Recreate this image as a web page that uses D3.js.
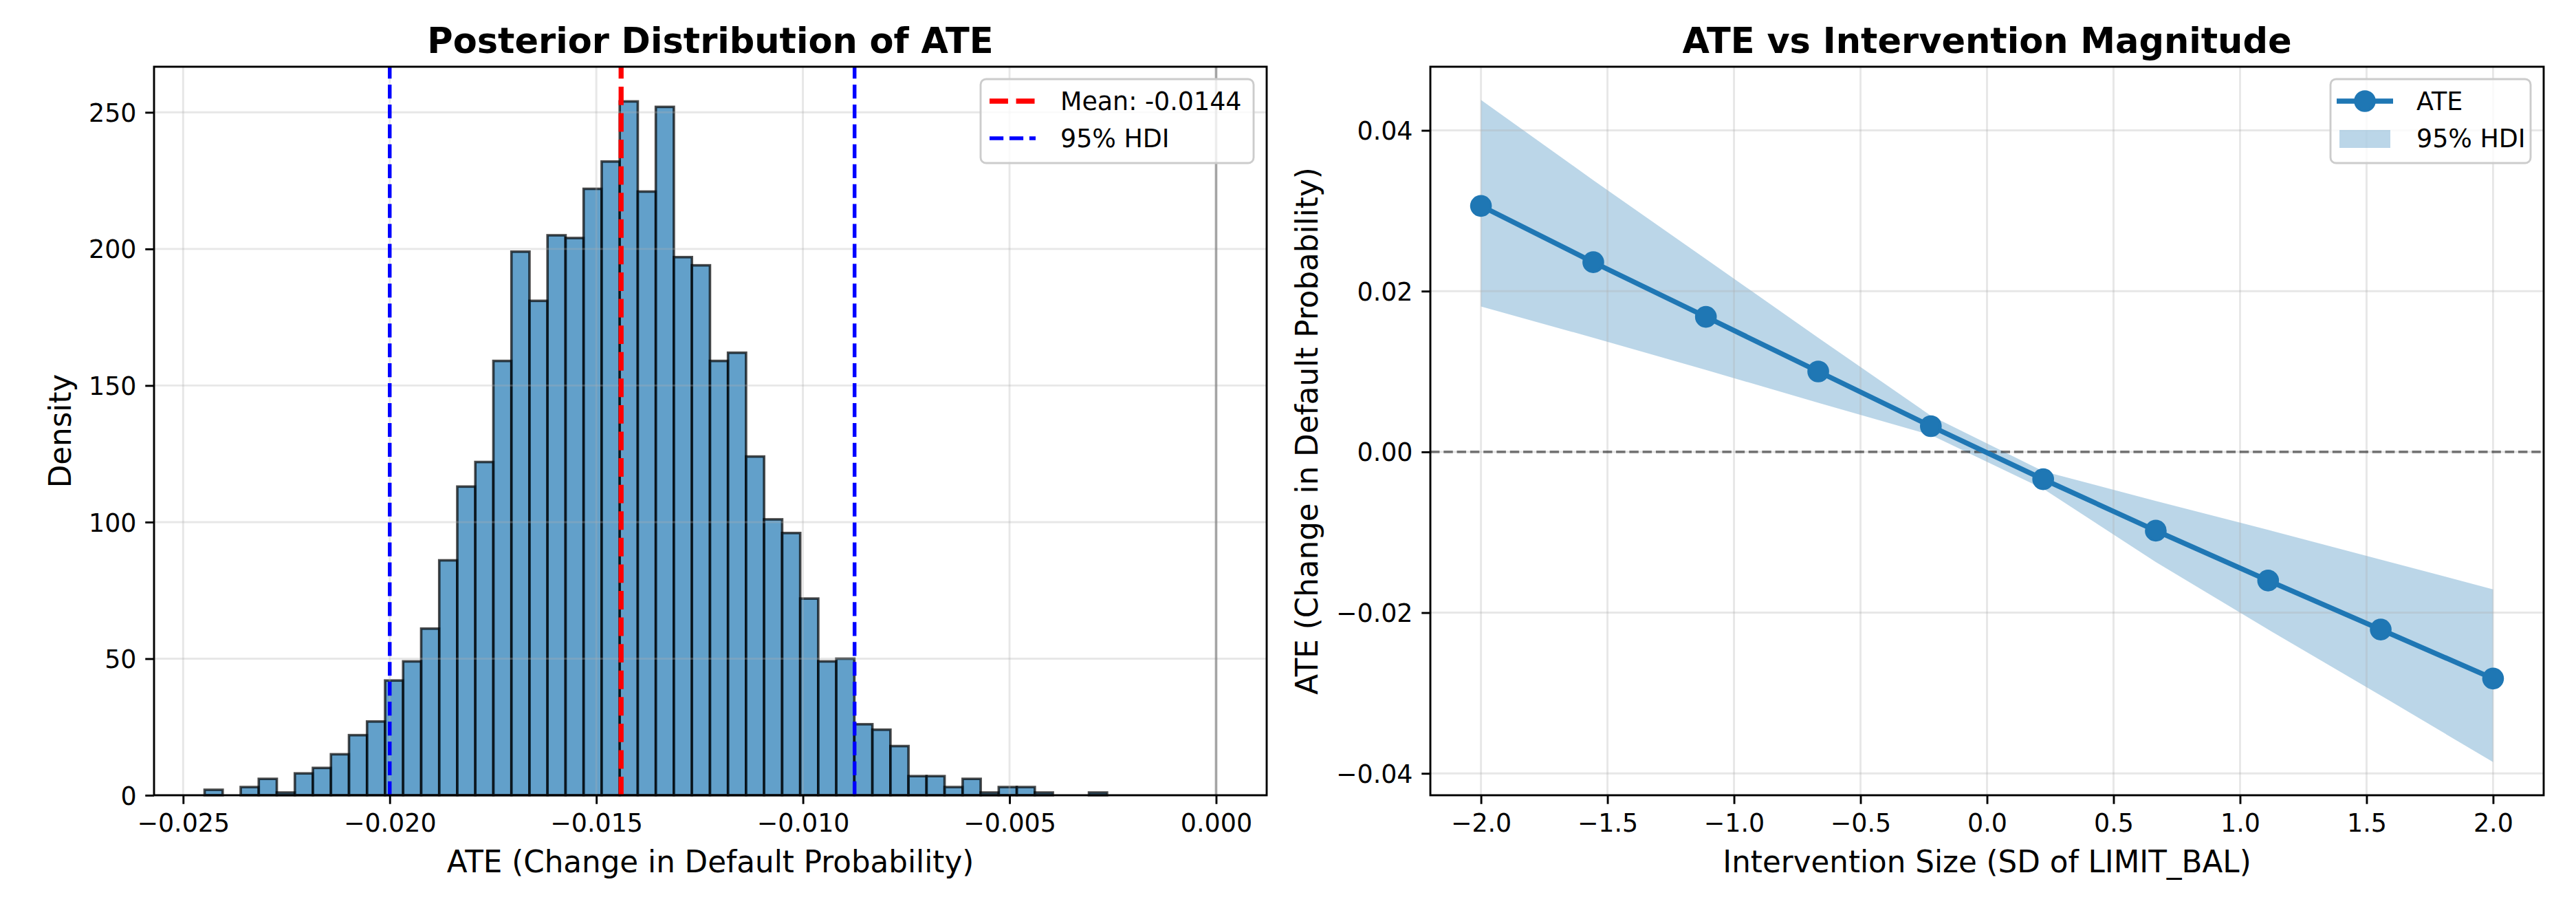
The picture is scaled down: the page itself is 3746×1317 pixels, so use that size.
<!DOCTYPE html>
<html>
<head>
<meta charset="utf-8">
<script src="https://cdn.jsdelivr.net/npm/d3@7"></script>
<style>
  body { margin: 0; background: #fff; }
  svg { display: block; font-family: "DejaVu Sans", sans-serif; }
</style>
</head>
<body>
<svg id="chart" width="3746" height="1317"></svg>
<script>
/* Histogram data: 50 bins of posterior ATE draws */
const binRange = [-0.02448, -0.00264];
const binCounts = [2, 0, 3, 6, 1, 8, 10, 15, 22, 27, 42, 49, 61, 86, 113, 122, 159, 199, 181, 205,
                   204, 222, 232, 254, 221, 252, 197, 194, 159, 162, 124, 101, 96, 72, 49, 50, 26, 24, 18, 7,
                   7, 3, 6, 1, 3, 3, 1, 0, 0, 1];
const ateMean = -0.0144;
const hdiBounds = [-0.0200, -0.00875];
const histXTicks = [-0.025, -0.020, -0.015, -0.010, -0.005, 0.000];
const histYTicks = [0, 50, 100, 150, 200, 250];

/* Intervention sweep */
const interventionSizes = [-2.0, -1.556, -1.111, -0.667, -0.222, 0.222, 0.667, 1.111, 1.556, 2.0];
const ateValues = [0.0306, 0.0236, 0.0168, 0.0100, 0.0032, -0.0034, -0.0098, -0.0160, -0.0221, -0.0282];
const hdiLower = [0.0181, 0.0142, 0.0102, 0.0061, 0.0021, -0.0046, -0.0137, -0.0221, -0.0303, -0.0386];
const hdiUpper = [0.0438, 0.0338, 0.0240, 0.0142, 0.0045, -0.0024, -0.0061, -0.0097, -0.0134, -0.0171];
const sweepXTicks = [-2.0, -1.5, -1.0, -0.5, 0.0, 0.5, 1.0, 1.5, 2.0];
const sweepYTicks = [-0.04, -0.02, 0.00, 0.02, 0.04];

/* Shared style (matplotlib look, ~3.64 px per pt) */
const PT = 3.64;
const blue = "#1f77b4";
const axTop = 97, axBottom = 1156;
const minus = s => s.replace("-", "\u2212");

const svg = d3.select("#chart");

function pad(ext) {
    const p = (ext[1] - ext[0]) * 0.05;
    return [ext[0] - p, ext[1] + p];
}

function drawGrid(g, x, y, left, right, xTicks, yTicks) {
    /* grid sits above patches, below lines (matplotlib default) */
    const grid = g.append("g");
    grid.selectAll(".gx").data(xTicks).join("line")
        .attr("x1", d => x(d)).attr("x2", d => x(d))
        .attr("y1", axTop).attr("y2", axBottom)
        .attr("stroke", "#b0b0b0").attr("stroke-opacity", 0.3).attr("stroke-width", 0.8 * PT);
    grid.selectAll(".gy").data(yTicks).join("line")
        .attr("x1", left).attr("x2", right)
        .attr("y1", d => y(d)).attr("y2", d => y(d))
        .attr("stroke", "#b0b0b0").attr("stroke-opacity", 0.3).attr("stroke-width", 0.8 * PT);
}

function drawAxes(g, x, y, left, right, xTicks, yTicks, xFmt, yFmt) {
    const ax = g.append("g");
    ax.append("rect")
        .attr("x", left).attr("y", axTop)
        .attr("width", right - left).attr("height", axBottom - axTop)
        .attr("fill", "none").attr("stroke", "#000").attr("stroke-width", 0.8 * PT);

    const xa = ax.append("g")
        .attr("transform", `translate(0,${axBottom})`)
        .call(d3.axisBottom(x).tickValues(xTicks).tickFormat(d => minus(xFmt(d)))
            .tickSize(3.5 * PT).tickPadding(3.5 * PT));
    const ya = ax.append("g")
        .attr("transform", `translate(${left},0)`)
        .call(d3.axisLeft(y).tickValues(yTicks).tickFormat(d => minus(yFmt(d)))
            .tickSize(3.5 * PT).tickPadding(3.5 * PT));
    [xa, ya].forEach(a => {
        a.select(".domain").remove();
        a.selectAll(".tick line").attr("stroke", "#000").attr("stroke-width", 0.8 * PT);
        a.selectAll(".tick text")
            .attr("fill", "#000")
            .style("font-family", "DejaVu Sans")
            .style("font-size", "36.4px");
    });
    xa.selectAll(".tick text").attr("dy", "0.76em");
    ya.selectAll(".tick text").attr("dy", "0.36em");
}

function legendBox(g, right, w, h) {
    return g.append("rect")
        .attr("x", right - 19 - w).attr("y", axTop + 18)
        .attr("width", w).attr("height", h)
        .attr("rx", 8).attr("ry", 8)
        .attr("fill", "#fff").attr("fill-opacity", 0.8)
        .attr("stroke", "#cccccc").attr("stroke-width", 0.8 * PT);
}

/* ---------------- Left: Posterior histogram ---------------- */
{
    const left = 224, right = 1842;
    const g = svg.append("g");
    const binWidth = (binRange[1] - binRange[0]) / binCounts.length;
    const bins = binCounts.map((c, i) => ({
        x0: binRange[0] + i * binWidth,
        x1: binRange[0] + (i + 1) * binWidth,
        count: c
    }));

    const x = d3.scaleLinear()
        .domain(pad([Math.min(binRange[0], 0), Math.max(binRange[1], 0)]))
        .range([left, right]);
    const y = d3.scaleLinear()
        .domain([0, d3.max(binCounts) * 1.05])
        .range([axBottom, axTop]);

    g.append("g").selectAll("rect").data(bins).join("rect")
        .attr("x", d => x(d.x0))
        .attr("y", d => y(d.count))
        .attr("width", d => x(d.x1) - x(d.x0))
        .attr("height", d => y(0) - y(d.count))
        .attr("fill", blue).attr("fill-opacity", 0.7)
        .attr("stroke", "#000").attr("stroke-opacity", 0.7)
        .attr("stroke-width", 1.0 * PT);

    drawGrid(g, x, y, left, right, histXTicks, histYTicks);

    /* reference lines */
    g.append("line")
        .attr("x1", x(0)).attr("x2", x(0)).attr("y1", axBottom).attr("y2", axTop)
        .attr("stroke", "#808080").attr("stroke-opacity", 0.65).attr("stroke-width", 1.0 * PT);
    g.append("line")
        .attr("x1", x(ateMean)).attr("x2", x(ateMean)).attr("y1", axBottom).attr("y2", axTop)
        .attr("stroke", "red").attr("stroke-width", 2 * PT)
        .attr("stroke-dasharray", `${3.7 * 2 * PT},${1.6 * 2 * PT}`);
    g.selectAll(".hdi").data(hdiBounds).join("line")
        .attr("x1", d => x(d)).attr("x2", d => x(d)).attr("y1", axBottom).attr("y2", axTop)
        .attr("stroke", "blue").attr("stroke-width", 1.5 * PT)
        .attr("stroke-dasharray", `${3.7 * 1.5 * PT},${1.6 * 1.5 * PT}`);

    drawAxes(g, x, y, left, right, histXTicks, histYTicks, d3.format(".3f"), d3.format("d"));

    /* legend */
    const lg = g.append("g");
    const bw = 397;
    legendBox(lg, right, bw, 122);
    const lx = right - 19 - bw + 13;
    lg.append("line").attr("x1", lx).attr("x2", lx + 67).attr("y1", 147).attr("y2", 147)
        .attr("stroke", "red").attr("stroke-width", 2 * PT)
        .attr("stroke-dasharray", `${3.7 * 2 * PT},${1.6 * 2 * PT}`);
    lg.append("line").attr("x1", lx).attr("x2", lx + 67).attr("y1", 201).attr("y2", 201)
        .attr("stroke", "blue").attr("stroke-width", 1.5 * PT)
        .attr("stroke-dasharray", `${3.7 * 1.5 * PT},${1.6 * 1.5 * PT}`);
    lg.append("text").attr("x", lx + 103).attr("y", 160)
        .style("font-size", "36.4px").text(`Mean: ${ateMean.toFixed(4)}`);
    lg.append("text").attr("x", lx + 103).attr("y", 214)
        .style("font-size", "36.4px").text("95% HDI");

    /* titles */
    g.append("text")
        .attr("x", (left + right) / 2).attr("y", 77)
        .attr("text-anchor", "middle")
        .style("font-size", "51px").style("font-weight", "bold")
        .text("Posterior Distribution of ATE");
    g.append("text")
        .attr("x", (left + right) / 2).attr("y", 1268)
        .attr("text-anchor", "middle")
        .style("font-size", "43.6px")
        .text("ATE (Change in Default Probability)");
    g.append("text")
        .attr("transform", `translate(88,${(axTop + axBottom) / 2}) rotate(-90)`)
        .attr("text-anchor", "middle")
        .attr("dominant-baseline", "central")
        .style("font-size", "43.6px")
        .text("Density");
}

/* ---------------- Right: ATE vs intervention ---------------- */
{
    const left = 2080, right = 3699;
    const g = svg.append("g");
    const pts = interventionSizes.map((s, i) => ({
        s: s, ate: ateValues[i], lo: hdiLower[i], hi: hdiUpper[i]
    }));

    const x = d3.scaleLinear()
        .domain(pad(d3.extent(interventionSizes)))
        .range([left, right]);
    const y = d3.scaleLinear()
        .domain(pad([d3.min(hdiLower), d3.max(hdiUpper)]))
        .range([axBottom, axTop]);

    g.append("path")
        .datum(pts)
        .attr("d", d3.area().x(d => x(d.s)).y0(d => y(d.lo)).y1(d => y(d.hi)))
        .attr("fill", blue).attr("fill-opacity", 0.3);

    drawGrid(g, x, y, left, right, sweepXTicks, sweepYTicks);

    g.append("line")
        .attr("x1", left).attr("x2", right).attr("y1", y(0)).attr("y2", y(0))
        .attr("stroke", "#000").attr("stroke-opacity", 0.5).attr("stroke-width", 1.0 * PT)
        .attr("stroke-dasharray", `${3.7 * PT},${1.6 * PT}`);

    g.append("path")
        .datum(pts)
        .attr("d", d3.line().x(d => x(d.s)).y(d => y(d.ate)))
        .attr("fill", "none").attr("stroke", blue).attr("stroke-width", 2 * PT);
    g.append("g").selectAll("circle").data(pts).join("circle")
        .attr("cx", d => x(d.s)).attr("cy", d => y(d.ate))
        .attr("r", 14).attr("fill", blue)
        .attr("stroke", blue).attr("stroke-width", 1.0 * PT);

    drawAxes(g, x, y, left, right, sweepXTicks, sweepYTicks, d3.format(".1f"), d3.format(".2f"));

    /* legend */
    const lg = g.append("g");
    const bw = 291;
    legendBox(lg, right, bw, 122);
    const lx = right - 19 - bw + 9;
    lg.append("line").attr("x1", lx).attr("x2", lx + 82).attr("y1", 147).attr("y2", 147)
        .attr("stroke", blue).attr("stroke-width", 2 * PT);
    lg.append("circle").attr("cx", lx + 41).attr("cy", 147).attr("r", 14)
        .attr("fill", blue).attr("stroke", blue).attr("stroke-width", 1.0 * PT);
    lg.append("rect").attr("x", lx + 4).attr("y", 189).attr("width", 74).attr("height", 26)
        .attr("fill", blue).attr("fill-opacity", 0.3);
    lg.append("text").attr("x", lx + 116).attr("y", 160)
        .style("font-size", "36.4px").text("ATE");
    lg.append("text").attr("x", lx + 116).attr("y", 214)
        .style("font-size", "36.4px").text("95% HDI");

    /* titles */
    g.append("text")
        .attr("x", (left + right) / 2).attr("y", 77)
        .attr("text-anchor", "middle")
        .style("font-size", "51px").style("font-weight", "bold")
        .text("ATE vs Intervention Magnitude");
    g.append("text")
        .attr("x", (left + right) / 2).attr("y", 1268)
        .attr("text-anchor", "middle")
        .style("font-size", "43.6px")
        .text("Intervention Size (SD of LIMIT_BAL)");
    g.append("text")
        .attr("transform", `translate(1901,${(axTop + axBottom) / 2}) rotate(-90)`)
        .attr("text-anchor", "middle")
        .attr("dominant-baseline", "central")
        .style("font-size", "43.6px")
        .text("ATE (Change in Default Probability)");
}
</script>
</body>
</html>
